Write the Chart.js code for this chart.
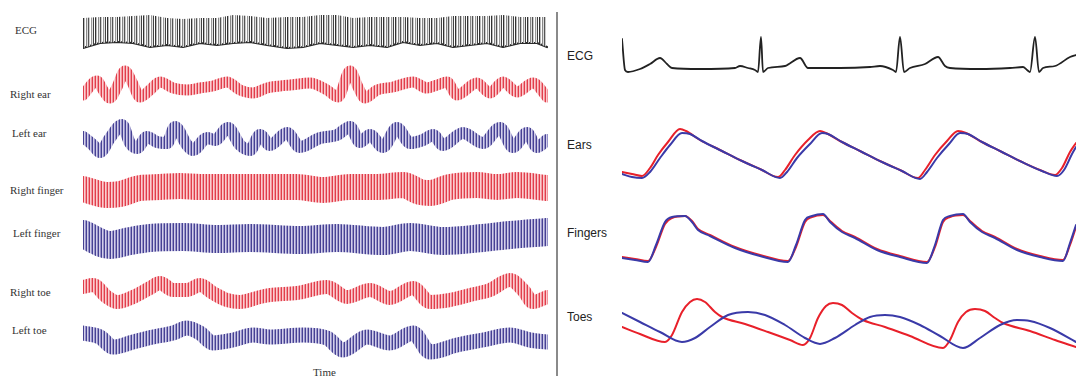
<!DOCTYPE html>
<html>
<head>
<meta charset="utf-8">
<script src="https://cdn.jsdelivr.net/npm/chart.js@4.4.1/dist/chart.umd.min.js"></script>
<style>
    body { margin: 0; width: 1076px; height: 376px; background: #fff; overflow: hidden; position: relative; }
    .trace { position: absolute; }
    .trace.soft { filter: blur(0.5px); }
    .trace.crisp { filter: blur(0.3px); }
    .lbl { position: absolute; white-space: nowrap; line-height: 1; }
    .serif { font-family: "Liberation Serif", "DejaVu Serif", serif; font-size: 11px; color: #333; }
    .sans { font-family: "Liberation Sans", Arial, sans-serif; font-size: 12px; color: #222; }
    #divider { position: absolute; left: 556px; top: 12px; width: 2px; height: 364px; background: #8a8a8a; }
</style>
</head>
<body>
<div class="lbl serif" style="left:15px;top:25px">ECG</div>
<div class="lbl serif" style="left:10px;top:89px">Right ear</div>
<div class="lbl serif" style="left:12px;top:128px">Left ear</div>
<div class="lbl serif" style="left:10px;top:185px">Right finger</div>
<div class="lbl serif" style="left:13px;top:228px">Left finger</div>
<div class="lbl serif" style="left:10px;top:287px">Right toe</div>
<div class="lbl serif" style="left:12px;top:325px">Left toe</div>
<div class="lbl serif" style="left:313px;top:367px">Time</div>
<div id="divider"></div>
<div class="lbl sans" style="left:567px;top:50px">ECG</div>
<div class="lbl sans" style="left:567px;top:139px">Ears</div>
<div class="lbl sans" style="left:567px;top:227px">Fingers</div>
<div class="lbl sans" style="left:567px;top:311px">Toes</div>

<script>
// left panel: long recordings (time in arbitrary units, amplitude in arbitrary units, up = positive)
const leftEcgT = [0, 17, 34, 50, 67, 84, 100, 117, 134, 150, 167, 184, 204, 220, 237, 254, 270, 287, 304, 320, 337, 354, 370, 387, 404, 420, 437, 454, 464];
const leftEcgTop = [12, 13, 13, 14, 15, 12, 11, 12, 12, 15, 14, 12, 13, 13, 15, 15, 12, 13, 13, 13, 12, 12, 14, 14, 14, 15, 13, 13, 13];
const leftEcgBase = [-18, -13, -12, -13, -17, -15, -17, -13, -15, -13, -12, -15, -18, -17, -13, -15, -17, -15, -17, -12, -15, -13, -17, -15, -13, -17, -13, -13, -17];

const rightEarT = [0, 14, 20, 27, 34, 42, 49, 57, 67, 77, 90, 104, 117, 130, 144, 157, 170, 184, 197, 207, 227, 244, 255, 267, 275, 282, 294, 310, 330, 344, 354, 364, 374, 394, 407, 420, 434, 450, 464];
const rightEarV = [-5, 9, 0, -8, 3, 19, 8, -7, 0, 8, 2, 0, 2, 4, 8, 0, -3, 2, 4, 5, 7, 0, -7, 19, 3, -8, 0, 3, 8, 2, 5, 8, -5, 7, -3, 8, -2, 7, -7];

const leftEarT = [0, 10, 17, 27, 39, 47, 54, 64, 74, 84, 92, 104, 110, 124, 132, 145, 157, 167, 177, 187, 204, 217, 237, 254, 267, 277, 287, 300, 314, 327, 340, 350, 360, 380, 400, 417, 430, 444, 454, 464];
const leftEarV = [3, -5, -12, 2, 15, -3, -8, 3, -2, -3, 13, -5, -10, 2, 0, 12, -5, -10, 5, -5, 7, -7, 2, 5, 13, -2, 5, -7, 12, -3, 0, 5, -5, 7, -3, 12, -7, 7, -7, 0];

const rightFingerT = [0, 24, 37, 57, 77, 97, 117, 137, 157, 177, 187, 214, 240, 267, 294, 320, 337, 347, 367, 394, 414, 434, 464];
const rightFingerV = [1, -5, -4, 2, 3, 4, 3, 3, 3, 3, 3, 3, 0, 3, 3, 5, -2, -3, 3, 5, 3, 5, 2];

const leftFingerT = [0, 27, 47, 67, 100, 134, 167, 217, 254, 300, 327, 360, 400, 427, 464];
const leftFingerV = [6, -5, -1, 2, 3, 1, 2, 0, 2, -1, 3, -1, 2, 5, 8];

const rightToeT = [0, 10, 24, 34, 50, 67, 77, 90, 104, 117, 130, 144, 157, 177, 187, 214, 244, 264, 287, 307, 330, 347, 367, 387, 407, 427, 440, 450, 464];
const rightToeV = [5, 7, -5, -10, -5, 4, 9, 2, 2, 7, -1, -8, -10, -5, -3, -1, 5, -5, 2, -6, 4, -10, -8, -3, 2, 12, 2, -10, -5];

const leftToeT = [0, 17, 30, 50, 70, 90, 104, 117, 130, 150, 170, 187, 220, 244, 260, 284, 307, 330, 347, 374, 400, 427, 447, 464];
const leftToeV = [7, 3, -7, -2, 3, 7, 12, 7, -3, 0, 5, 3, 5, 2, -10, 3, -3, 7, -12, -5, 0, 5, 0, -2];

// right panel: three cardiac cycles
const ecgT = [0, 3, 6, 18, 28, 38, 45, 50, 78, 113, 118, 126, 133, 136, 139, 141, 146, 163, 178, 186, 218, 248, 258, 271, 274, 278, 282, 288, 303, 316, 323, 328, 358, 388, 401, 405, 408, 413, 417, 421, 433, 448, 454];
const ecgV = [29, -2, -4, -1, 4, 10, 4, 0, -1, 0, 2, 0, -2, -4, 31, -4, 0, 2, 10, 0, 0, 1, 2, -2, -4, 31, -4, 0, 4, 11, 2, 0, -1, 0, 1, -2, -4, 31, -4, 0, 2, 11, 13];

const earsRedT = [0, 10, 20, 28, 36, 46, 58, 64, 78, 98, 118, 138, 156, 163, 173, 186, 198, 204, 218, 238, 258, 278, 296, 303, 313, 325, 336, 344, 358, 378, 398, 418, 433, 440, 448, 454];
const earsRedV = [-17, -19, -21, -13, 0, 13, 26, 24, 15, 5, -5, -14, -22, -15, 0, 15, 24, 22, 14, 4, -6, -15, -23, -15, 0, 14, 24, 22, 14, 4, -6, -15, -20, -13, 3, 12];
const earsBlueT = [0, 10, 20, 28, 38, 48, 60, 68, 80, 100, 120, 140, 158, 165, 175, 188, 200, 206, 220, 240, 260, 280, 298, 305, 315, 327, 338, 346, 360, 380, 400, 420, 435, 442, 450, 454];
const earsBlueV = [-19, -22, -23, -17, -3, 10, 22, 21, 14, 4, -6, -15, -23, -17, -3, 11, 22, 21, 13, 3, -7, -16, -24, -17, -3, 11, 22, 21, 13, 3, -7, -16, -21, -15, 1, 8];

const fingersT = [0, 13, 26, 34, 43, 50, 63, 70, 76, 88, 113, 138, 166, 174, 183, 190, 201, 208, 220, 233, 255, 278, 305, 313, 321, 328, 341, 348, 360, 373, 395, 418, 441, 448, 454];
const fingersRedV = [-17, -19, -21, -7, 16, 22, 24, 19, 11, 5, -7, -15, -21, -7, 18, 23, 25, 19, 9, 3, -9, -16, -22, -7, 18, 23, 25, 19, 9, 3, -9, -16, -20, -5, 13];
const fingersBlueV = [-18, -20, -22, -5, 18, 23, 24, 18, 10, 4, -8, -16, -22, -5, 20, 24, 26, 18, 8, 2, -10, -17, -23, -5, 20, 24, 26, 18, 8, 2, -10, -17, -21, -3, 15];

const toesRedT = [0, 18, 43, 50, 60, 68, 75, 83, 93, 100, 123, 146, 168, 181, 188, 196, 204, 211, 220, 230, 241, 263, 288, 321, 328, 336, 344, 353, 363, 373, 381, 408, 433, 454];
const toesRedV = [-5, -12, -20, -13, 10, 20, 23, 20, 10, 5, -2, -10, -18, -23, -16, 4, 16, 19, 17, 9, 2, -5, -14, -26, -18, 0, 10, 13, 11, 4, -1, -9, -18, -25];
const toesBlueT = [0, 18, 38, 60, 73, 88, 106, 126, 143, 163, 183, 198, 213, 233, 248, 263, 278, 298, 318, 341, 358, 378, 395, 408, 428, 454];
const toesBlueV = [9, 0, -10, -20, -16, -5, 7, 10, 7, -3, -16, -22, -16, -3, 5, 7, 5, -3, -14, -26, -16, -3, 2, 1, -6, -20];

function makeStripes(colors) {
    const c = document.createElement("canvas");
    c.width = colors.length;
    c.height = 1;
    const g = c.getContext("2d");
    colors.forEach(function (col, i) {
        g.fillStyle = col;
        g.fillRect(i, 0, 1, 1);
    });
    return g.createPattern(c, "repeat");
}

const redStripes = makeStripes(["rgba(222,40,55,0.9)", "rgba(246,155,160,0.5)", "rgba(238,105,115,0.7)"]);
const blueStripes = makeStripes(["rgba(50,44,135,0.9)", "rgba(165,160,212,0.5)", "rgba(105,100,178,0.7)"]);
const grayStripes = makeStripes(["#333", "#bbb", "rgba(255,255,255,0)", "#888", "#ddd", "#555", "#ccc", "rgba(255,255,255,0)", "#999", "#e5e5e5", "#444", "rgba(255,255,255,0)"]);

function pts(t, v) {
    return t.map(function (x, i) { return { x: x, y: v[i] }; });
}

function addTrace(left, top, width, height, xMax, datasets, look) {
    const box = document.createElement("div");
    box.className = "trace " + look;
    box.style.left = left + "px";
    box.style.top = top + "px";
    box.style.width = width + "px";
    box.style.height = height + "px";
    const cv = document.createElement("canvas");
    box.appendChild(cv);
    document.body.appendChild(box);

    new Chart(cv, {
        type: "line",
        data: { datasets: datasets },
        options: {
            responsive: true,
            maintainAspectRatio: false,
            animation: false,
            layout: { padding: 0 },
            plugins: {
                legend: { display: false },
                tooltip: { enabled: false }
            },
            elements: {
                point: { radius: 0 },
                line: { cubicInterpolationMode: "monotone", borderCapStyle: "round", borderJoinStyle: "round" }
            },
            scales: {
                x: { type: "linear", display: false, min: 0, max: xMax },
                y: { display: false, min: -height / 2, max: height / 2 }
            }
        }
    });
}

function band(t, v, pattern, width) {
    return { data: pts(t, v), borderColor: pattern, borderWidth: width, fill: false };
}

function thin(t, v, color) {
    return { data: pts(t, v), borderColor: color, borderWidth: 2, fill: false };
}

// left panel
addTrace(83, 5, 465, 50, 465, [
    { data: pts(leftEcgT, leftEcgTop), borderWidth: 0, borderColor: "rgba(0,0,0,0)", backgroundColor: grayStripes, fill: "+1", cubicInterpolationMode: "default", tension: 0 },
    { data: pts(leftEcgT, leftEcgBase), borderColor: "#2a2a2a", borderWidth: 2.2, fill: false, cubicInterpolationMode: "default", tension: 0 }
], "soft");
addTrace(83, 62, 465, 56, 465, [band(rightEarT, rightEarV, redStripes, 11)], "soft");
addTrace(83, 112, 465, 56, 465, [band(leftEarT, leftEarV, blueStripes, 12)], "soft");
addTrace(83, 162, 465, 56, 465, [band(rightFingerT, rightFingerV, redStripes, 26)], "soft");
addTrace(83, 210, 465, 60, 465, [band(leftFingerT, leftFingerV, blueStripes, 28)], "soft");
addTrace(83, 267, 465, 50, 465, [band(rightToeT, rightToeV, redStripes, 14)], "soft");
addTrace(83, 315, 465, 50, 465, [band(leftToeT, leftToeV, blueStripes, 15)], "soft");

// right panel (first dataset is drawn on top)
addTrace(622, 33, 454, 70, 454, [
    { data: pts(ecgT, ecgV), borderColor: "#222", borderWidth: 1.8, fill: false }
], "crisp");
addTrace(622, 120, 454, 70, 454, [thin(earsBlueT, earsBlueV, "#3a3aa8"), thin(earsRedT, earsRedV, "#e8202a")], "crisp");
addTrace(622, 205, 454, 70, 454, [thin(fingersT, fingersBlueV, "#3a3aa8"), thin(fingersT, fingersRedV, "#e8202a")], "crisp");
addTrace(622, 287, 454, 70, 454, [thin(toesBlueT, toesBlueV, "#3a3aa8"), thin(toesRedT, toesRedV, "#e8202a")], "crisp");
</script>
</body>
</html>
